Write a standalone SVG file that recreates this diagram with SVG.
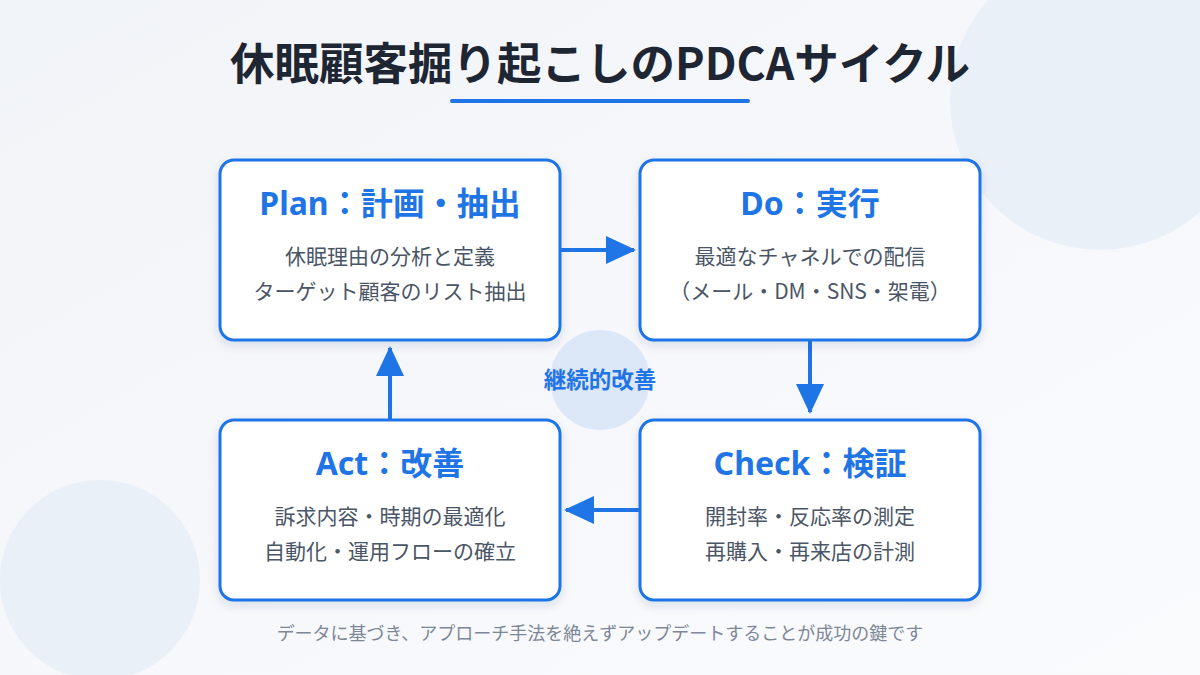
<svg xmlns="http://www.w3.org/2000/svg" width="1200" height="675" viewBox="0 0 1200 675">
<defs>
<linearGradient id="bg" x1="0" y1="0" x2="1" y2="1"><stop offset="0" stop-color="#f1f4f8"/><stop offset="1" stop-color="#fafbfd"/></linearGradient>
<marker id="ah" viewBox="0 0 30 28" refX="28" refY="14" markerWidth="30" markerHeight="28" orient="auto" markerUnits="userSpaceOnUse"><path d="M0,0L30,14L0,28z" fill="#1f74e6"/></marker>
<filter id="sh" x="-10%" y="-10%" width="120%" height="130%"><feDropShadow dx="0" dy="4" stdDeviation="5" flood-color="#1f3a60" flood-opacity="0.12"/></filter>
</defs>
<style>
.box{fill:#fff;stroke:#1f74e6;stroke-width:3;filter:url(#sh)}
.h{font-family:"Noto Sans","Noto Sans CJK JP",sans-serif;font-weight:700;font-size:32px;fill:#1f74e6;text-anchor:middle}
.b{font-family:"Noto Sans CJK JP",sans-serif;font-size:21px;fill:#4a5566;text-anchor:middle}
.c{stroke:#1f74e6;stroke-width:4;fill:none;marker-end:url(#ah)}
</style>
<rect width="1200" height="675" fill="url(#bg)"/>
<circle cx="1100" cy="100" r="150" fill="#e6edf8" opacity="0.8"/>
<circle cx="100" cy="580" r="100" fill="#e6edf8" opacity="0.8"/>
<text x="600" y="80" font-family="Noto Sans CJK JP,sans-serif" font-weight="700" font-size="44.5" fill="#1e2633" text-anchor="middle">休眠顧客掘り起こしのPDCAサイクル</text>
<rect x="450" y="99" width="300" height="4" rx="2" fill="#1f74e6"/>
<g id="center"><circle cx="600" cy="380" r="50" fill="#dce7f8"/><text x="600" y="388" font-family="Noto Sans CJK JP,sans-serif" font-weight="700" font-size="22.5" fill="#1f74e6" text-anchor="middle">継続的改善</text></g>
<g id="connectors">
<path class="c" d="M560,250H634"/>
<path class="c" d="M810,340V412"/>
<path class="c" d="M640,510H566"/>
<path class="c" d="M390,420V348"/>
</g>
<g id="plan"><rect class="box" x="220" y="160" width="340" height="180" rx="14"/><text class="h" x="390" y="215">Plan：計画・抽出</text><text class="b" x="390" y="264">休眠理由の分析と定義</text><text class="b" x="390" y="299">ターゲット顧客のリスト抽出</text></g>
<g id="do"><rect class="box" x="640" y="160" width="340" height="180" rx="14"/><text class="h" x="810" y="215">Do：実行</text><text class="b" x="810" y="264">最適なチャネルでの配信</text><text class="b" x="810" y="299">（メール・DM・SNS・架電）</text></g>
<g id="check"><rect class="box" x="640" y="420" width="340" height="180" rx="14"/><text class="h" x="810" y="475">Check：検証</text><text class="b" x="810" y="524">開封率・反応率の測定</text><text class="b" x="810" y="559">再購入・再来店の計測</text></g>
<g id="act"><rect class="box" x="220" y="420" width="340" height="180" rx="14"/><text class="h" x="390" y="475">Act：改善</text><text class="b" x="390" y="524">訴求内容・時期の最適化</text><text class="b" x="390" y="559">自動化・運用フローの確立</text></g>
<text x="600" y="640" font-family="Noto Sans CJK JP,sans-serif" font-size="18" fill="#7d8797" text-anchor="middle">データに基づき、アプローチ手法を絶えずアップデートすることが成功の鍵です</text>
</svg>
